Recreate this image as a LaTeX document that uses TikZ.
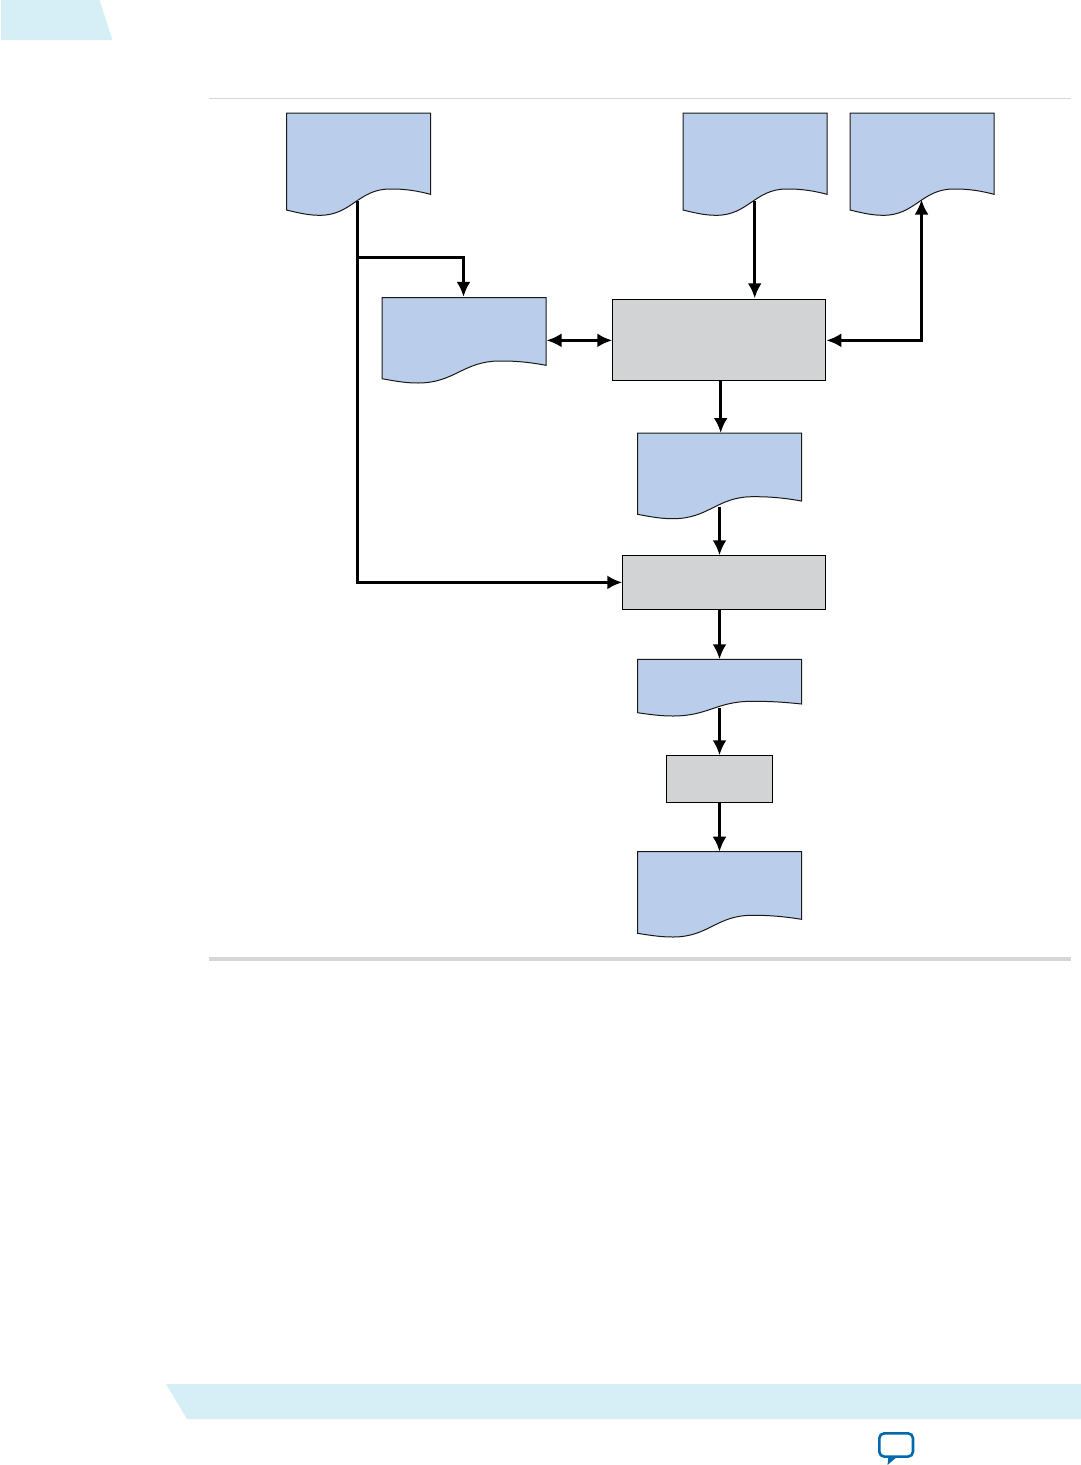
\documentclass[tikz,border=0pt]{standalone}
\usetikzlibrary{arrows.meta}
\definecolor{docblue}{HTML}{BACEEB}
\definecolor{boxgray}{HTML}{D1D3D4}
\definecolor{banner}{HTML}{D6EEF5}
\definecolor{rulegray}{HTML}{D6D6D6}
\definecolor{iconblue}{HTML}{0068AD}
\tikzset{
  docnode/.style={draw=none,inner sep=0pt,outer sep=0pt},
  docline/.style={fill=docblue,draw=black!90,line width=1pt,line join=miter},
  graybox/.style={rectangle,fill=boxgray,draw=black,line width=1pt,inner sep=0pt,outer sep=0pt},
  conn/.style={line width=3.1pt,draw=black,line join=miter},
  tipend/.style={-{Latex[length=15pt,width=14pt]}},
  tipboth/.style={{Latex[length=15pt,width=14pt]}-{Latex[length=15pt,width=14pt]}}
}
% xl xr top yL tx ty cx cy yR
\newcommand{\docshape}[9]{%
  \path[docline] (#1,#3) -- (#2,#3) -- (#2,#9)
    .. controls ({#7+0.5*(#2-#7)},#8) and ({#7+0.2*(#2-#7)},#8) .. (#7,#8)
    .. controls ({#7-0.45*(#7-#5)},#8) and ({#5+0.45*(#7-#5)},#6) .. (#5,#6)
    .. controls ({#5-0.3*(#5-#1)},#6) and ({#1+0.45*(#5-#1)},{#4+0.7*(#6-#4)}) .. (#1,#4)
    -- cycle;
}
\begin{document}
\begin{tikzpicture}[x=1pt,y=-1pt]
\useasboundingbox (0,0) rectangle (1081,1465);
% page furniture
\fill[banner] (1,0) -- (99.5,0) -- (112.5,40) -- (1,40) -- cycle;
\fill[banner] (166,1384) -- (1081,1384) -- (1081,1419) -- (187,1419) -- cycle;
\draw[rulegray,line width=1pt] (208.5,98.5) -- (1071,98.5);
\draw[rulegray,line width=4pt] (208.5,958.7) -- (1071,958.7);
% comment icon
\draw[iconblue,line width=2.6pt,rounded corners=5pt] (879.3,1433.3) rectangle (913,1456.6);
\fill[iconblue] (888.5,1456) -- (898,1456) -- (887.5,1465) -- cycle;
% documents
\docshape{286.5}{430.5}{113}{210}{320}{215.3}{390}{189}{194.3}
\docshape{683}{827}{113}{210}{716.5}{215.3}{786.5}{189}{194.3}
\docshape{850}{994}{113}{210}{883.5}{215.3}{953.5}{189}{194.3}
\docshape{382}{546}{297.5}{378.7}{418}{383}{500}{361}{365.3}
\docshape{637.5}{801.5}{433}{514.3}{673}{518.7}{753}{496.7}{501}
\docshape{637.5}{801.5}{659.3}{712.7}{673}{716}{752}{701.3}{704}
\docshape{637.5}{801.5}{851.7}{933.3}{673}{937}{752}{915.3}{919.3}
% document anchors
\node[docnode,minimum width=144pt,minimum height=102.3pt] (srca) at (358.5,164.15) {};
\node[docnode,minimum width=144pt,minimum height=102.3pt] (srcb) at (754.7,164.15) {};
\node[docnode,minimum width=144pt,minimum height=102.3pt] (srcc) at (922,164.15) {};
\node[docnode,minimum width=164pt,minimum height=85.5pt] (lib) at (463.5,340.25) {};
\node[docnode,minimum width=164pt,minimum height=85.7pt] (mid) at (719.5,475.85) {};
\node[docnode,minimum width=164pt,minimum height=56.7pt] (low) at (719.5,687.65) {};
\node[docnode,minimum width=164pt,minimum height=85.3pt] (out) at (719.5,894.35) {};
% process boxes
\node[graybox,minimum width=213pt,minimum height=80.7pt] (proca) at (718.8,339.65) {};
\node[graybox,minimum width=203.2pt,minimum height=54.2pt] (procb) at (723.9,582.4) {};
\node[graybox,minimum width=106.4pt,minimum height=47pt] (procc) at (719.5,778.8) {};
% connector free ends on the wavy edges
\coordinate (srcaw) at (357.5,201);
\coordinate (srcbw) at (754.7,201);
\coordinate (srccw) at (921.5,199.5);
\coordinate (midw) at (719.5,507);
\coordinate (loww) at (719.5,708);
% connectors
\draw[conn,tipend] (srcaw) -- (srcaw |- procb.west) -- (procb.west);
\draw[conn,tipend] (357.5,257.5) coordinate (tee) -- (tee -| lib.north) -- ([yshift=0.6pt]lib.north);
\draw[conn,tipend] (srcbw) -- ([yshift=1pt]srcb.south |- proca.north);
\draw[conn,tipboth] ([xshift=1pt,yshift=-0.7pt]lib.east |- proca.west) -- ([yshift=-0.7pt]proca.west);
\draw[conn,tipboth] ([xshift=1pt,yshift=-0.7pt]proca.east) -- ([yshift=-0.7pt]proca.east -| srccw) -- (srccw);
\draw[conn,tipend] ([xshift=1.2pt]proca.south -| mid.north) -- ([xshift=1.2pt]mid.north);
\draw[conn,tipend] (midw) -- (midw |- procb.north);
\draw[conn,tipend] (procb.south -| low.north) -- (low.north);
\draw[conn,tipend] (loww) -- (loww |- procc.north);
\draw[conn,tipend] (procc.south) -- (out.north);
\end{tikzpicture}
\end{document}
